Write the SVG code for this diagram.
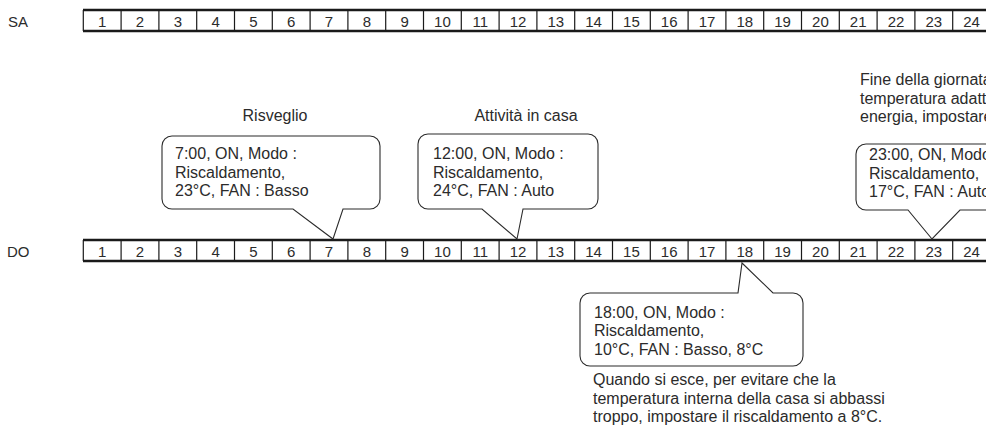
<svg xmlns="http://www.w3.org/2000/svg" xmlns:xlink="http://www.w3.org/1999/xlink" width="986" height="427" viewBox="0 0 986 427">
<style>
text{font-family:"Liberation Sans",Arial,sans-serif;fill:#2b2b2b}
.num{font-size:15px;text-anchor:middle}
.lbl{font-size:15px}
.t{font-size:16px}
.mid{text-anchor:middle}
.bar{stroke:#1a1a1a;stroke-width:2.5;fill:none}
.div{stroke:#1a1a1a;stroke-width:1.2}
.co{fill:#fff;stroke:#2b2b2b;stroke-width:1.1}
</style>
<defs>
<g id="tl">
<line class="bar" x1="83" y1="10" x2="986" y2="10"/>
<line class="bar" x1="83" y1="31" x2="986" y2="31"/>
<g class="div">
<line x1="83.3" y1="10" x2="83.3" y2="31"/><line x1="121.1" y1="10" x2="121.1" y2="31"/><line x1="158.9" y1="10" x2="158.9" y2="31"/><line x1="196.7" y1="10" x2="196.7" y2="31"/><line x1="234.5" y1="10" x2="234.5" y2="31"/><line x1="272.3" y1="10" x2="272.3" y2="31"/><line x1="310.1" y1="10" x2="310.1" y2="31"/><line x1="347.9" y1="10" x2="347.9" y2="31"/><line x1="385.7" y1="10" x2="385.7" y2="31"/><line x1="423.5" y1="10" x2="423.5" y2="31"/><line x1="461.3" y1="10" x2="461.3" y2="31"/><line x1="499.1" y1="10" x2="499.1" y2="31"/><line x1="536.9" y1="10" x2="536.9" y2="31"/><line x1="574.7" y1="10" x2="574.7" y2="31"/><line x1="612.5" y1="10" x2="612.5" y2="31"/><line x1="650.3" y1="10" x2="650.3" y2="31"/><line x1="688.1" y1="10" x2="688.1" y2="31"/><line x1="725.9" y1="10" x2="725.9" y2="31"/><line x1="763.7" y1="10" x2="763.7" y2="31"/><line x1="801.5" y1="10" x2="801.5" y2="31"/><line x1="839.3" y1="10" x2="839.3" y2="31"/><line x1="877.1" y1="10" x2="877.1" y2="31"/><line x1="914.9" y1="10" x2="914.9" y2="31"/><line x1="952.7" y1="10" x2="952.7" y2="31"/>
</g>
<g class="num">
<text x="102.2" y="26.5">1</text><text x="140" y="26.5">2</text><text x="177.8" y="26.5">3</text><text x="215.6" y="26.5">4</text><text x="253.4" y="26.5">5</text><text x="291.2" y="26.5">6</text><text x="329" y="26.5">7</text><text x="366.8" y="26.5">8</text><text x="404.6" y="26.5">9</text><text x="442.4" y="26.5">10</text><text x="480.2" y="26.5">11</text><text x="518" y="26.5">12</text><text x="555.8" y="26.5">13</text><text x="593.6" y="26.5">14</text><text x="631.4" y="26.5">15</text><text x="669.2" y="26.5">16</text><text x="707" y="26.5">17</text><text x="744.8" y="26.5">18</text><text x="782.6" y="26.5">19</text><text x="820.4" y="26.5">20</text><text x="858.2" y="26.5">21</text><text x="896" y="26.5">22</text><text x="933.8" y="26.5">23</text><text x="971.6" y="26.5">24</text>
</g>
</g>
</defs>

<g id="timeline-sa">
<text class="lbl" x="8" y="26.5">SA</text>
<use xlink:href="#tl" href="#tl"/>
</g>

<g id="timeline-do">
<text class="lbl" x="7" y="256.5">DO</text>
<use xlink:href="#tl" href="#tl" transform="translate(0,230)"/>
</g>

<g id="connectors">
<path class="co" d="M172,136 H370 A10,10 0 0 1 380,146 V199 A10,10 0 0 1 370,209 H343 L333,239 L293,209 H172 A10,10 0 0 1 162,199 V146 A10,10 0 0 1 172,136 Z"/>
<path class="co" d="M428,134 H588 A10,10 0 0 1 598,144 V199 A10,10 0 0 1 588,209 H523 L517,239 L482,209 H428 A10,10 0 0 1 418,199 V144 A10,10 0 0 1 428,134 Z"/>
<path class="co" d="M866,144 H1000 V210 H960 L932,239 L908,210 H866 A10,10 0 0 1 856,200 V154 A10,10 0 0 1 866,144 Z"/>
<path class="co" d="M590,293 H738 L742,263 L773,293 H793 A10,10 0 0 1 803,303 V356 A10,10 0 0 1 793,366 H590 A10,10 0 0 1 580,356 V303 A10,10 0 0 1 590,293 Z"/>
</g>

<g id="callout-7">
<text class="t mid" x="275" y="121">Risveglio</text>
<text class="t" x="175" y="159">7:00, ON, Modo :</text>
<text class="t" x="175" y="177.5">Riscaldamento,</text>
<text class="t" x="175" y="196">23°C, FAN : Basso</text>
</g>

<g id="callout-12">
<text class="t mid" x="526" y="121">Attività in casa</text>
<text class="t" x="433" y="159">12:00, ON, Modo :</text>
<text class="t" x="433" y="177.5">Riscaldamento,</text>
<text class="t" x="433" y="196">24°C, FAN : Auto</text>
</g>

<g id="callout-23">
<text class="t" x="860" y="85">Fine della giornata</text>
<text class="t" x="860" y="103.5">temperatura adatta</text>
<text class="t" x="860" y="122">energia, impostare</text>
<text class="t" x="869" y="160">23:00, ON, Modo :</text>
<text class="t" x="869" y="178.5">Riscaldamento,</text>
<text class="t" x="869" y="197">17°C, FAN : Auto</text>
</g>

<g id="callout-18">
<text class="t" x="594" y="317.5">18:00, ON, Modo :</text>
<text class="t" x="594" y="336">Riscaldamento,</text>
<text class="t" x="594" y="354.5">10°C, FAN : Basso, 8°C</text>
<text class="t" x="593" y="385">Quando si esce, per evitare che la</text>
<text class="t" x="593" y="403.5">temperatura interna della casa si abbassi</text>
<text class="t" x="593" y="422">troppo, impostare il riscaldamento a 8°C.</text>
</g>
</svg>
